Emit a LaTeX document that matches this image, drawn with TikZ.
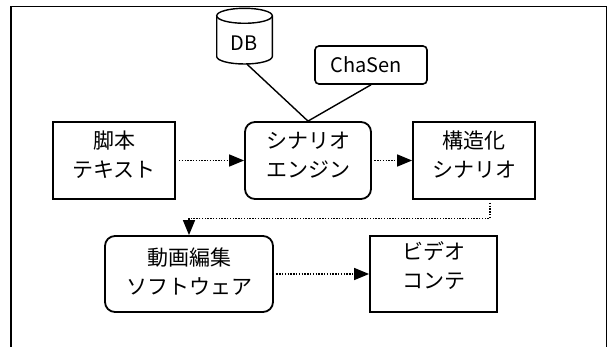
\documentclass[tikz,border=0pt]{standalone}
\usepackage{fontspec}
\setmainfont{Noto Sans CJK JP}
\usetikzlibrary{arrows.meta}
\begin{document}
\begin{tikzpicture}[x=1pt,y=-1pt,
  boxstyle/.style={draw,line width=1.8pt,inner sep=0pt},
  roundbox/.style={boxstyle,rounded corners=10pt},
  lbl/.style={align=center,font=\fontsize{21}{29}\selectfont,inner sep=0pt},
  latin/.style={font=\fontsize{20}{22}\selectfont,inner sep=0pt},
  dotline/.style={line width=1.5pt,dash pattern=on 1.4pt off 1.4pt,
    -{Triangle[length=15pt,width=12pt]}},
  solidline/.style={line width=1.4pt}]
\useasboundingbox (0,0) rectangle (608,347);
% frame
\draw[line width=1.8pt] (11,350) -- (11,6.5) -- (606.5,6.5) -- (606.5,350);
% DB cylinder
\node[minimum width=55.6pt,minimum height=55.7pt,inner sep=0pt] (db) at (244.5,36.15) {};
\draw[solidline] (244.5,15.8) ellipse[x radius=27.8pt,y radius=7.5pt];
\draw[solidline] (216.7,15.8) -- (216.7,56.5) arc[start angle=180,end angle=360,x radius=27.8pt,y radius=7.5pt] -- (272.3,15.8);
\node[latin] (dbt) at (244,43) {DB};
% ChaSen
\node[draw,line width=1.6pt,rounded corners=4pt,minimum width=112pt,minimum height=38pt,inner sep=0pt] (chasen) at (371,65) {};
\node[latin] (chasent) at (366,65) {ChaSen};
% boxes
\node[boxstyle,minimum width=122pt,minimum height=77pt] (script) at (114,160.5) {};
\node[lbl] (scriptt) at (114,155) {脚本\\テキスト};
\node[roundbox,minimum width=126pt,minimum height=77pt] (engine) at (308,160.5) {};
\node[lbl] (enginet) at (308,155) {シナリオ\\エンジン};
\node[boxstyle,minimum width=122pt,minimum height=77pt] (struct) at (474,160.5) {};
\node[lbl] (structt) at (474,155) {構造化\\シナリオ};
\node[roundbox,minimum width=168pt,minimum height=76pt] (edit) at (189,274) {};
\node[lbl] (editt) at (189,271.5) {動画編集\\ソフトウェア};
\node[boxstyle,minimum width=127pt,minimum height=76pt] (video) at (433.5,274) {};
\node[lbl] (videot) at (433.5,266) {ビデオ\\コンテ};
% connectors
\draw[solidline] ([xshift=2.5pt]db.south) -- (engine.north);
\draw[solidline] (chasen.south) -- (engine.north);
\draw[dotline,shorten <=3pt] (script.east) -- (engine.west);
\draw[dotline,shorten <=2.5pt] (engine.east) -- (struct.west);
\draw[dotline,shorten <=3pt] ([xshift=16pt]struct.south) -- ++(0,18.5) -| (edit.north);
\draw[dotline,shorten <=2.5pt] (edit.east) -- (video.west);
\end{tikzpicture}
\end{document}
